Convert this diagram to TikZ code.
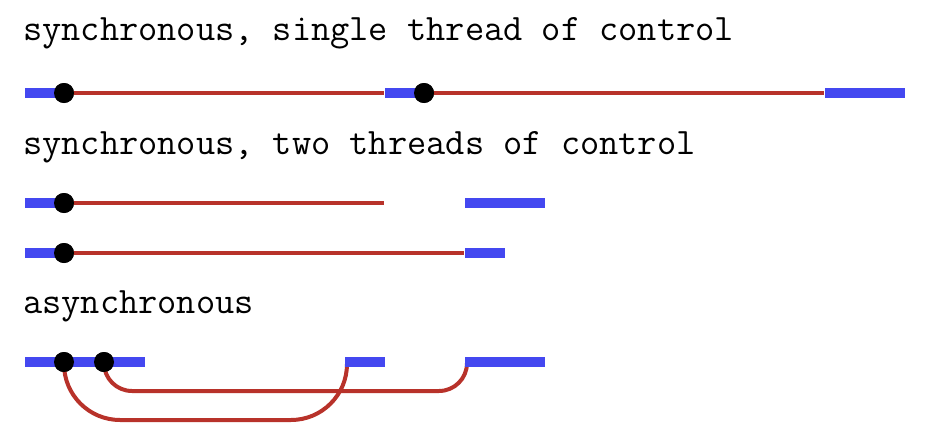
\documentclass[tikz,border=0pt]{standalone}
\definecolor{barblue}{RGB}{68,72,240}
\definecolor{thrred}{RGB}{184,50,42}
\begin{document}
\begin{tikzpicture}[x=1pt,y=-1pt,
  bar/.style={line width=10pt, draw=barblue},
  thr/.style={line width=4pt, draw=thrred},
  dot/.style={circle, fill=black, inner sep=0pt, minimum size=20pt},
  lbl/.style={anchor=base west, inner sep=0pt, font=\fontsize{37.3}{42}\selectfont\ttfamily}]
\useasboundingbox (0,0) rectangle (952,444);
% labels
\node[lbl] (t1) at (23,41) {synchronous, single thread of control};
\node[lbl] (t2) at (23,154) {synchronous, two threads of control};
\node[lbl] (t3) at (23,313) {asynchronous};
% dots
\node[dot] (d1a) at (64,93) {};
\node[dot] (d1b) at (424,93) {};
\node[dot] (d2) at (64,203) {};
\node[dot] (d3) at (64,253) {};
\node[dot] (d4a) at (64,362) {};
\node[dot] (d4b) at (104,362) {};
% coordinates
\coordinate (r1e) at (384,93);
\coordinate (r1f) at (824,93);
\coordinate (r2e) at (384,203);
\coordinate (r3e) at (464,253);
\coordinate (c1) at (347,365);
\coordinate (c2) at (467,365);
% threads (red)
\draw[thr] (d1a.center) -- (r1e);
\draw[thr] (d1b.center) -- (r1f);
\draw[thr] (d2.center) -- (r2e);
\draw[thr] (d3.center) -- (r3e);
\draw[thr, rounded corners=56pt] (d4a.center) |- (c1 |- 0,420) -- (c1);
\draw[thr, rounded corners=28pt] (d4b.center) |- (c2 |- 0,391) -- (c2);
% bars (blue)
\draw[bar] (25,93) -- (d1a.center);
\draw[bar] (385,93) -- (d1b.center);
\draw[bar] (825,93) -- (905,93);
\draw[bar] (25,203) -- (d2.center);
\draw[bar] (465,203) -- (545,203);
\draw[bar] (25,253) -- (d3.center);
\draw[bar] (465,253) -- (505,253);
\draw[bar] (25,362) -- (145,362);
\draw[bar] (345,362) -- (385,362);
\draw[bar] (465,362) -- (545,362);
% redraw dots on top
\foreach \n in {d1a,d1b,d2,d3,d4a,d4b} \fill[black] (\n) circle (10pt);
\end{tikzpicture}
\end{document}
